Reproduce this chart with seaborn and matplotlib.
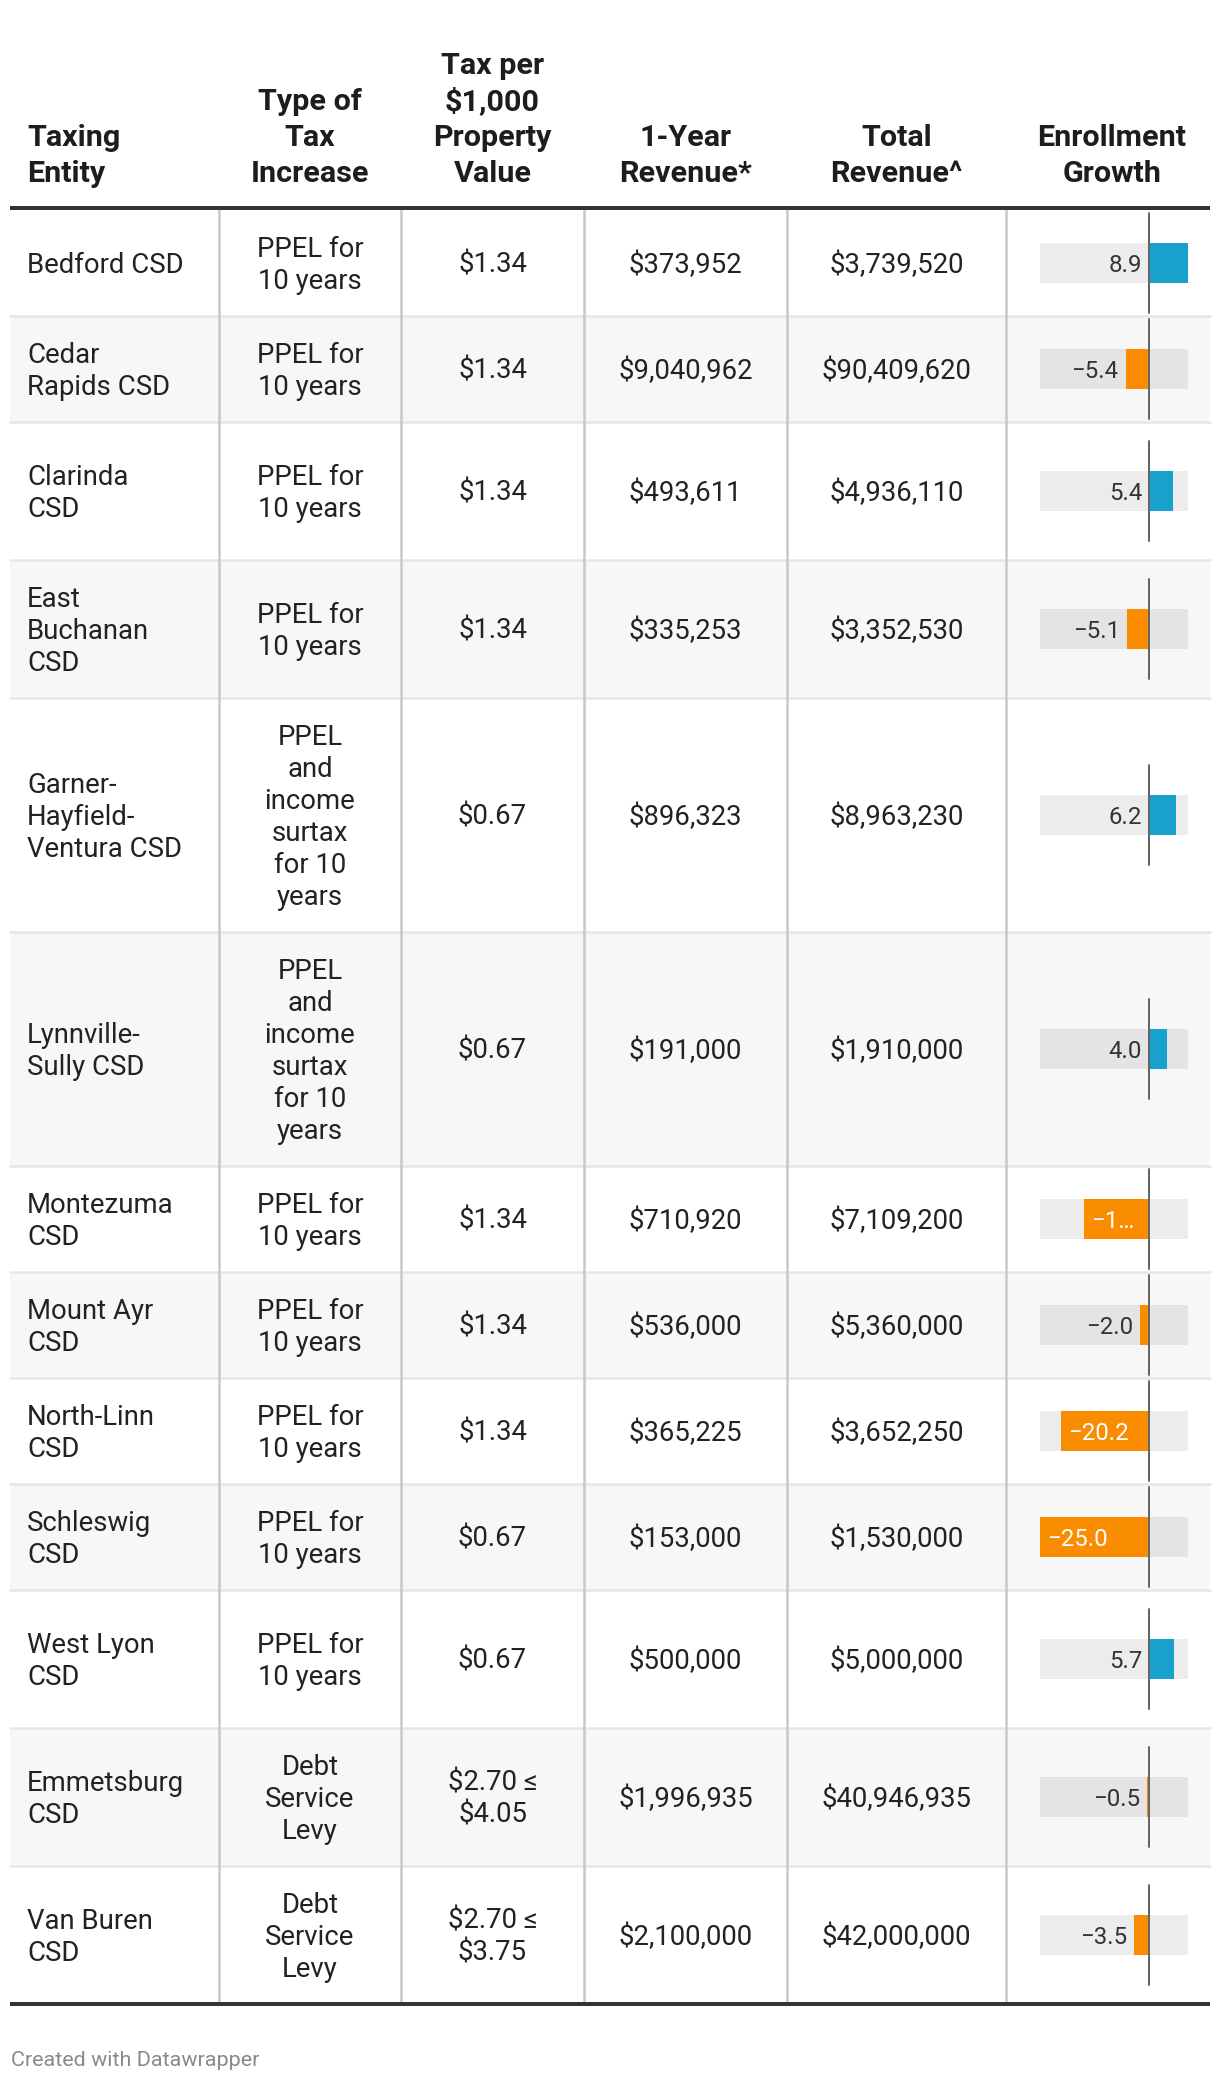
import matplotlib
matplotlib.use("Agg")
import matplotlib.pyplot as plt
from matplotlib.patches import Rectangle
import seaborn as sns

sns.set_theme(style="white")
plt.rcParams["font.family"] = ["Roboto", "DejaVu Sans"]

# ----------------------------------------------------------------------
# DATA
# ----------------------------------------------------------------------
HEADERS = [
    "Taxing\nEntity",
    "Type of\nTax\nIncrease",
    "Tax per\n$1,000\nProperty\nValue",
    "1-Year\nRevenue*",
    "Total\nRevenue^",
    "Enrollment\nGrowth",
]

ENTITIES = [
    "Bedford CSD", "Cedar\nRapids CSD", "Clarinda\nCSD", "East\nBuchanan\nCSD",
    "Garner-\nHayfield-\nVentura CSD", "Lynnville-\nSully CSD", "Montezuma\nCSD",
    "Mount Ayr\nCSD", "North-Linn\nCSD", "Schleswig\nCSD", "West Lyon\nCSD",
    "Emmetsburg\nCSD", "Van Buren\nCSD",
]

PPEL = "PPEL for\n10 years"
PPEL_SURTAX = "PPEL\nand\nincome\nsurtax\nfor 10\nyears"
DEBT = "Debt\nService\nLevy"
TAX_TYPES = [PPEL, PPEL, PPEL, PPEL, PPEL_SURTAX, PPEL_SURTAX, PPEL,
             PPEL, PPEL, PPEL, PPEL, DEBT, DEBT]

TAX_RATES = ["$1.34", "$1.34", "$1.34", "$1.34", "$0.67", "$0.67", "$1.34",
             "$1.34", "$1.34", "$0.67", "$0.67", "$2.70 \u2264\n$4.05",
             "$2.70 \u2264\n$3.75"]

ONE_YEAR = ["$373,952", "$9,040,962", "$493,611", "$335,253", "$896,323",
            "$191,000", "$710,920", "$536,000", "$365,225", "$153,000",
            "$500,000", "$1,996,935", "$2,100,000"]

TOTAL = ["$3,739,520", "$90,409,620", "$4,936,110", "$3,352,530", "$8,963,230",
         "$1,910,000", "$7,109,200", "$5,360,000", "$3,652,250", "$1,530,000",
         "$5,000,000", "$40,946,935", "$42,000,000"]

GROWTH = [8.9, -5.4, 5.4, -5.1, 6.2, 4.0, -14.9, -2.0, -20.2, -25.0, 5.7, -0.5, -3.5]

# ----------------------------------------------------------------------
# LAYOUT (pixels)
# ----------------------------------------------------------------------
W, H = 1220, 2082
DPI = 100
COL_EDGES = [10, 219, 401, 584, 787, 1006, 1210]
ROW_HEIGHTS = [106, 106, 138, 138, 234, 234, 106, 106, 106, 106, 138, 138, 138]
HEADER_LINE_Y = 208
TABLE_TOP = 210
BODY_PX, HEAD_PX, LABEL_PX, FOOT_PX = 27.5, 30.5, 24, 21.5
BODY_LEAD, HEAD_LEAD = 32, 36
BAR_X0, BAR_W, BAR_H = 1040, 148, 40
TEXT_COLOR = "#222222"
BLUE, ORANGE = "#18a1cd", "#fa8c00"


def pt(px):
    return px * 72 / DPI


def draw_lines(ax, x, yc, text, ha, px, lead, weight="normal", color=TEXT_COLOR):
    lines = text.split("\n")
    n = len(lines)
    for i, line in enumerate(lines):
        y = yc + (i - (n - 1) / 2) * lead + 0.355 * px
        ax.text(x, y, line, ha=ha, va="baseline", fontsize=pt(px),
                fontweight=weight, color=color)


fig = plt.figure(figsize=(W / DPI, H / DPI), dpi=DPI)
fig.patch.set_facecolor("white")
ax = fig.add_axes([0, 0, 1, 1])
ax.set_xlim(0, W)
ax.set_ylim(H, 0)
ax.axis("off")
renderer = fig.canvas.get_renderer()


def text_width(s, px):
    t = fig.text(0, 0, s, fontsize=pt(px))
    w = t.get_window_extent(renderer=renderer).width
    t.remove()
    return w


# header
for j, head in enumerate(HEADERS):
    n = len(head.split("\n"))
    yc = 171 - (n - 1) / 2 * HEAD_LEAD
    if j == 0:
        draw_lines(ax, 27, yc, head, "left", HEAD_PX, HEAD_LEAD, weight="bold", color="#1d1d1d")
    else:
        xc = (COL_EDGES[j] + COL_EDGES[j + 1]) / 2
        if j == len(HEADERS) - 1:
            xc += 4
        draw_lines(ax, xc, yc, head, "center", HEAD_PX, HEAD_LEAD, weight="bold", color="#1d1d1d")

# rows
tops = [TABLE_TOP]
for h in ROW_HEIGHTS:
    tops.append(tops[-1] + h)
left, right = COL_EDGES[0], COL_EDGES[-1]

for i, h in enumerate(ROW_HEIGHTS):
    if i % 2 == 1:
        ax.add_patch(Rectangle((left, tops[i]), right - left, h, color="#f7f7f7", lw=0, zorder=0))
    if i > 0:
        ax.plot([left, right], [tops[i], tops[i]], color="#e6e6e6", lw=pt(2.5), zorder=1)

lo, hi = min(GROWTH), max(GROWTH)
scale = BAR_W / (hi - lo)
pad = 7

for i, h in enumerate(ROW_HEIGHTS):
    yc = tops[i] + h / 2
    draw_lines(ax, 27, yc, ENTITIES[i], "left", BODY_PX, BODY_LEAD)
    for j, col in enumerate([TAX_TYPES, TAX_RATES, ONE_YEAR, TOTAL], start=1):
        xc = (COL_EDGES[j] + COL_EDGES[j + 1]) / 2
        draw_lines(ax, xc, yc, col[i], "center", BODY_PX, BODY_LEAD)

    # bar cell
    v = GROWTH[i]
    bax = fig.add_axes([BAR_X0 / W, 1 - (yc + BAR_H / 2) / H, BAR_W / W, BAR_H / H])
    bax.set_facecolor((0, 0, 0, 0.075))
    sns.barplot(x=[v], y=[""], orient="h", color=BLUE if v >= 0 else ORANGE,
                width=1, errorbar=None, saturation=1, linewidth=0, ax=bax)
    bax.set_xlim(lo, hi)
    bax.set_ylim(0.5, -0.5)
    bax.set_xticks([])
    bax.set_yticks([])
    bax.set_xlabel("")
    bax.set_ylabel("")
    for s in bax.spines.values():
        s.set_visible(False)
    ext = 30 / BAR_H
    bax.axvline(0, ymin=-ext, ymax=1 + ext, color="#666666", lw=pt(2), clip_on=False, zorder=5)

    label = f"{v:.1f}".replace("-", "\u2212")
    w = text_width(label, LABEL_PX)
    color = "#333333"
    if v >= 0:
        if w + 2 * pad <= (hi - v) * scale:
            xy, dx, ha = v, pad, "left"
        else:
            xy, dx, ha = 0, -pad, "right"
    else:
        if w + 2 * pad <= (v - lo) * scale:
            xy, dx, ha = v, -pad, "right"
        else:
            xy, dx, ha, color = v, pad, "left", "white"
            avail = abs(v) * scale - 2 * pad
            k = len(label)
            while w > avail and k > 1:
                k -= 1
                label = label[:k].rstrip(".") + "\u2026"
                w = text_width(label, LABEL_PX)
    bax.annotate(label, xy=(xy, 0), xycoords="data", xytext=(dx, -0.355 * LABEL_PX),
                 textcoords="offset pixels", ha=ha, va="baseline", fontsize=pt(LABEL_PX),
                 color=color, annotation_clip=False, zorder=6)

# column dividers and rules
bottom = tops[-1]
for x in COL_EDGES[1:-1]:
    ax.plot([x, x], [HEADER_LINE_Y, bottom], color="#c8c8c8", lw=pt(2.5), zorder=2)
ax.plot([left, right], [HEADER_LINE_Y, HEADER_LINE_Y], color="#333333", lw=pt(4), zorder=3,
        solid_capstyle="butt")
ax.plot([left, right], [bottom, bottom], color="#333333", lw=pt(4), zorder=3,
        solid_capstyle="butt")

ax.text(11, 2058 + 0.355 * FOOT_PX, "Created with Datawrapper", ha="left", va="baseline",
        fontsize=pt(FOOT_PX), color="#8a8a8a")

fig.savefig("out.png", dpi=DPI)
